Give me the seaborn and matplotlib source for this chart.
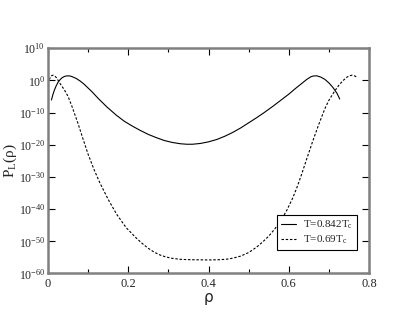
import numpy as np
import pandas as pd
import matplotlib
matplotlib.use("Agg")
import matplotlib.pyplot as plt
import matplotlib.ticker as mticker
import seaborn as sns

# density values and log10 of the distribution
rho_hot = [0.0085, 0.012, 0.016, 0.02, 0.025, 0.03, 0.035, 0.04, 0.045, 0.05,
           0.055, 0.06, 0.07, 0.08, 0.09, 0.10, 0.11, 0.125, 0.147, 0.17,
           0.19, 0.21, 0.229, 0.25, 0.27, 0.29, 0.31, 0.33, 0.346, 0.36,
           0.38, 0.40, 0.42, 0.44, 0.46, 0.48, 0.50, 0.52, 0.54, 0.56,
           0.58, 0.60, 0.615, 0.63, 0.645, 0.655, 0.661, 0.67, 0.68, 0.69,
           0.70, 0.71, 0.72, 0.727]
logp_hot = [-6.1, -4.5, -3.0, -1.8, -0.6, 0.2, 0.8, 1.15, 1.35, 1.4,
            1.35, 1.15, 0.6, -0.2, -1.2, -2.4, -3.6, -5.6, -8.3, -10.8,
            -12.7, -14.2, -15.5, -16.8, -17.8, -18.7, -19.3, -19.7, -19.85, -19.85,
            -19.6, -19.1, -18.4, -17.4, -16.2, -14.8, -13.2, -11.6, -9.9, -8.1,
            -6.2, -4.3, -2.7, -1.2, 0.3, 1.1, 1.35, 1.4, 1.0, 0.3,
            -0.8, -2.2, -4.0, -5.8]

rho_cold = [0.003, 0.006, 0.009, 0.013, 0.017, 0.021, 0.025, 0.03, 0.04, 0.05,
            0.06, 0.075, 0.088, 0.10, 0.115, 0.129, 0.15, 0.171, 0.195, 0.22,
            0.235, 0.25, 0.265, 0.28, 0.295, 0.31, 0.33, 0.35, 0.40, 0.43,
            0.45, 0.465, 0.48, 0.50, 0.52, 0.535, 0.55, 0.565, 0.58, 0.595,
            0.61, 0.62, 0.632, 0.645, 0.66, 0.675, 0.69, 0.70, 0.713, 0.725,
            0.735, 0.745, 0.752, 0.758, 0.764, 0.771]
logp_cold = [0.2, 1.0, 1.45, 1.6, 1.35, 0.8, 0.0, -1.0, -2.8, -5.0,
             -8.2, -13.5, -18.5, -23.0, -27.8, -31.8, -37.0, -41.6, -45.8, -49.0,
             -50.7, -52.2, -53.4, -54.3, -54.9, -55.3, -55.6, -55.7, -55.8, -55.7,
             -55.5, -55.1, -54.6, -53.5, -51.8, -50.2, -48.4, -46.2, -43.6, -40.4,
             -36.5, -33.4, -29.2, -24.3, -18.8, -13.6, -8.8, -6.2, -3.6, -1.5,
             -0.1, 1.0, 1.45, 1.6, 1.4, 0.9]

labels = ["T=0.842T$_\\mathrm{c}$", "T=0.69T$_\\mathrm{c}$"]
yticks_exp = [10, 0, -10, -20, -30, -40, -50, -60]

df = pd.concat([
    pd.DataFrame({"rho": rho_hot, "P": 10.0 ** np.array(logp_hot), "T": labels[0]}),
    pd.DataFrame({"rho": rho_cold, "P": 10.0 ** np.array(logp_cold), "T": labels[1]}),
])

sns.set_style("ticks")
plt.rcParams["font.family"] = ["Liberation Serif", "DejaVu Serif"]
plt.rcParams["mathtext.fontset"] = "custom"
plt.rcParams["mathtext.rm"] = "Liberation Serif"
plt.rcParams["mathtext.it"] = "Liberation Serif:italic"

fig = plt.figure(figsize=(4.15, 3.21), dpi=100)
ax = fig.add_axes([0.1157, 0.148, 0.7735, 0.702])

sns.lineplot(data=df, x="rho", y="P", hue="T", style="T",
             palette=["black", "black"], dashes={labels[0]: "", labels[1]: (2.2, 1.6)},
             linewidth=0.8, ax=ax, sort=False)

ax.set_yscale("log")
ax.set_xlim(0, 0.8)
ax.set_ylim(1e-60, 1e10)
ax.set_yticks([10.0 ** e for e in yticks_exp])
ax.set_yticklabels(["$10^{%d}$" % e for e in yticks_exp])
ax.yaxis.set_minor_locator(mticker.NullLocator())
ax.set_xticks([0, 0.2, 0.4, 0.6, 0.8])
ax.set_xticklabels(["0", "0.2", "0.4", "0.6", "0.8"])
ax.xaxis.set_minor_locator(mticker.MultipleLocator(0.1))

ax.tick_params(which="both", direction="in", top=True, right=True,
               labelsize=9, color="black", width=0.8)
ax.tick_params(which="major", length=5, pad=3)
ax.tick_params(which="minor", length=3)
ax.tick_params(axis="y", labelsize=8.5, pad=2)
for sp in ax.spines.values():
    sp.set_color("#808080")
    sp.set_linewidth(1.8)

ax.set_xlabel("ρ", fontsize=11, family="DejaVu Sans", labelpad=0)
ax.set_ylabel("P$_\\mathrm{L}$(ρ)", fontsize=11)
ax.yaxis.set_label_coords(-0.09, 0.5)

leg = ax.legend(loc="lower right", bbox_to_anchor=(0.962, 0.104), fontsize=8,
                frameon=True, fancybox=False, edgecolor="black", framealpha=1,
                handlelength=1.4, borderpad=0.35, labelspacing=0.25, handletextpad=0.6,
                borderaxespad=0)
leg.get_frame().set_linewidth(0.8)

fig.savefig("out.png", dpi=100)
